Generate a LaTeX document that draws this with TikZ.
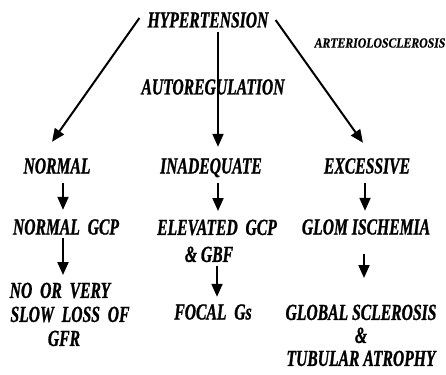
\documentclass[tikz,border=0pt]{standalone}
\usepackage{fontspec}
\setmainfont{Liberation Serif}[FakeStretch=0.68, BoldItalicFeatures={FakeBold=1}]
\newfontfamily\smfont{Liberation Serif}[FakeStretch=0.84, BoldItalicFeatures={FakeBold=0.6}]
\usetikzlibrary{arrows.meta}
\tikzset{
  blk/.style={font=\fontsize{23}{24}\selectfont\bfseries\itshape, inner sep=1pt, align=center},
  lbl/.style={blk, text height=15pt, text depth=0pt},
  sml/.style={font=\fontsize{14}{16}\smfont\bfseries\itshape, inner sep=1pt},
  arr/.style={-{Triangle[length=13pt,width=11pt]}, line width=2pt},
}
\begin{document}
\begin{tikzpicture}[x=1pt,y=-1pt]
    \useasboundingbox (0,0) rectangle (446,374);
    % top
    \node[lbl] (hyp) at (208,20) {HYPERTENSION};
    \node[sml] (arte) at (380,43) {ARTERIOLOSCLEROSIS};
    \node[lbl] (auto) at (213,87) {AUTOREGULATION};
    % second row
    \node[lbl] (norm) at (57,166) {NORMAL};
    \node[lbl] (inad) at (211,166) {INADEQUATE};
    \node[lbl] (exc) at (367,166) {EXCESSIVE};
    % third row
    \node[lbl] (ngcp) at (66,227) {NORMAL\ \ GCP};
    \node[blk, anchor=north] (egcp) at (217,218.5) {ELEVATED\ \ GCP\\[3pt]\hspace*{-16pt}\& GBF};
    \node[lbl] (glom) at (366,227) {GLOM ISCHEMIA};
    % bottom row
    \node[blk, anchor=north] (loss) at (70,281.5) {\hspace*{-20pt}NO\ \ OR\ \ VERY\\SLOW\ \ LOSS\ \ OF\\\hspace*{-12pt}GFR};
    \node[lbl] (foc) at (213,312) {FOCAL\ \ Gs};
    \node[blk, anchor=north] (glob) at (361,303.5) {GLOBAL SCLEROSIS\\[-1pt]\&\\[-1pt]TUBULAR ATROPHY};

    \draw[arr] ([xshift=-7pt,yshift=2pt]hyp.west) -- ([xshift=-5pt,yshift=15.5pt]norm.north);
    \draw[arr] ([xshift=10pt,yshift=-3.5pt]hyp.south) -- ([xshift=7pt,yshift=10.5pt]inad.north);
    \draw[arr] ([xshift=6pt]hyp.east) -- ([xshift=-4pt,yshift=14.5pt]exc.north);
    \draw[arr] ([xshift=6pt,yshift=-8.5pt]norm.south) -- ([xshift=-3pt,yshift=8.5pt]ngcp.north);
    \draw[arr] ([xshift=7pt,yshift=-8.5pt]inad.south) -- ([xshift=1pt,yshift=7.5pt]egcp.north);
    \draw[arr] ([xshift=-2pt,yshift=-8.5pt]exc.south) -- ([xshift=-1pt,yshift=7.5pt]glom.north);
    \draw[arr] ([xshift=-3pt,yshift=-2.5pt]ngcp.south) -- ([xshift=-7pt,yshift=6.5pt]loss.north);
    \draw[arr] ([yshift=-2.5pt]egcp.south) -- ([xshift=4pt,yshift=6.5pt]foc.north);
    \draw[arr] ([xshift=-2pt,yshift=-18pt]glom.south) -- ([xshift=3pt,yshift=25.5pt]glob.north);
\end{tikzpicture}
\end{document}
